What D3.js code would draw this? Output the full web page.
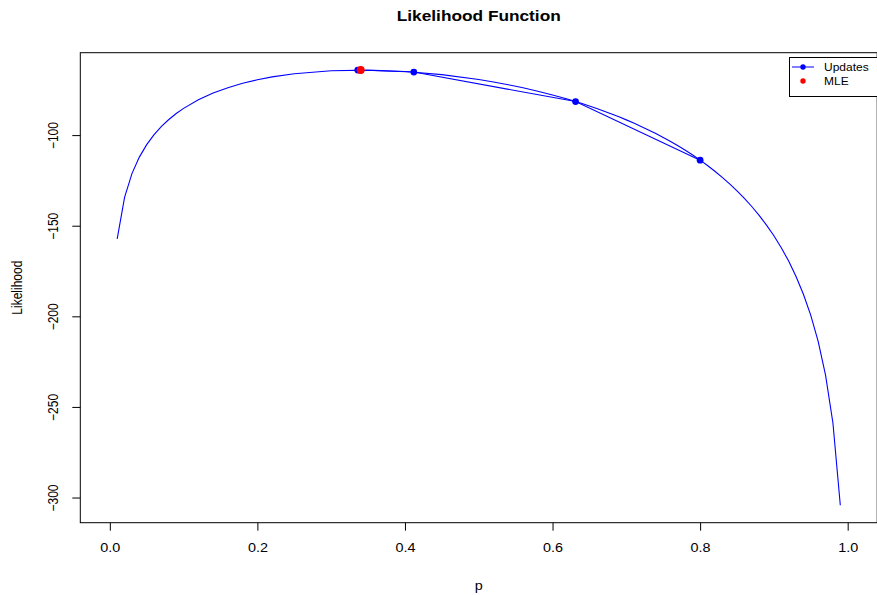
<!DOCTYPE html>
<html><head><meta charset="utf-8">
<script src="https://cdn.jsdelivr.net/npm/d3@7"></script>
<style>body{margin:0;background:#fff}svg{display:block;font-family:"Liberation Sans",Arial,Helvetica,sans-serif}</style>
</head><body><svg id="c" width="877" height="595"></svg>
<script>
// Likelihood curve
const pValues = [0.01,0.02,0.03,0.04,0.05,0.06,0.07,0.08,0.09,0.10,0.12,0.14,0.16,0.18,0.20,0.22,0.25,0.30,0.35,0.40,0.45,0.50,0.52,0.54,0.56,0.58,0.60,0.61,0.62,0.63,0.64,0.65,0.66,0.67,0.68,0.69,0.70,0.71,0.72,0.73,0.74,0.75,0.76,0.77,0.78,0.79,0.80,0.81,0.82,0.83,0.84,0.85,0.86,0.87,0.88,0.89,0.90,0.91,0.92,0.93,0.94,0.95,0.96,0.97,0.98,0.99];
const likelihoodValues = [-157.24,-134.34,-121.23,-112.14,-105.24,-99.74,-95.20,-91.38,-88.09,-85.24,-80.53,-76.80,-73.82,-71.40,-69.45,-67.88,-66.12,-64.48,-64.13,-64.87,-66.61,-69.31,-70.68,-72.20,-73.90,-75.78,-77.84,-78.95,-80.11,-81.33,-82.60,-83.93,-85.33,-86.79,-88.31,-89.91,-91.59,-93.34,-95.19,-97.12,-99.14,-101.28,-103.52,-105.89,-108.38,-111.02,-113.81,-116.77,-119.92,-123.28,-126.88,-130.74,-134.89,-139.39,-144.28,-149.64,-155.55,-162.13,-169.53,-177.98,-187.79,-199.46,-213.83,-232.47,-258.88,-304.28];
// Update path
const updateP = [0.8, 0.6312, 0.4120, 0.3360, 0.3400];
const updateL = [-113.81, -81.48, -65.20, -64.11, -64.10];
// MLE
const mleP = [0.34];
const mleL = [-64.10];
// ticks
const xTicks = [0, 0.2, 0.4, 0.6, 0.8, 1.0];
const xTickLabels = ["0.0","0.2","0.4","0.6","0.8","1.0"];
const yTicks = [-300, -250, -200, -150, -100];
const yTickLabels = ["\u2212300","\u2212250","\u2212200","\u2212150","\u2212100"];
const legendLabels = ["Updates", "MLE"];

const svg = d3.select("#c");
const L = 80.3, R = 877.2, T = 52.7, B = 522.7;
const SX = 1.2; // horizontal stretch of the text in the picture

function rDomain(vals){ const e = d3.extent(vals); const pad = (e[1]-e[0])*0.04; return [e[0]-pad, e[1]+pad]; }
const x = d3.scaleLinear().domain([-0.04, 1.04]).range([L, R]);
const y = d3.scaleLinear().domain(rDomain(likelihoodValues)).range([B, T]);

const blue = "#0000FF", red = "#FF0000";
const curve = pValues.map((p,i)=>[p, likelihoodValues[i]]);
const upd = updateP.map((p,i)=>[p, updateL[i]]);
const line = d3.line().x(d=>x(d[0])).y(d=>y(d[1]));

svg.append("defs").append("clipPath").attr("id","pc").append("rect")
  .attr("x",L).attr("y",T).attr("width",R-L).attr("height",B-T);
const g = svg.append("g").attr("clip-path","url(#pc)");
g.append("path").attr("d", line(curve)).attr("fill","none").attr("stroke",blue).attr("stroke-width",1.1);
g.append("path").attr("d", line(upd)).attr("fill","none").attr("stroke",blue).attr("stroke-width",1.1);
g.selectAll("circle.u").data(upd).enter().append("circle").attr("class","u")
  .attr("cx",d=>x(d[0])).attr("cy",d=>y(d[1])).attr("r",3.4).attr("fill",blue);
g.selectAll("circle.m").data(mleP.map((p,i)=>[p,mleL[i]])).enter().append("circle").attr("class","m")
  .attr("cx",d=>x(d[0])).attr("cy",d=>y(d[1])).attr("r",4).attr("fill",red);

// frame
svg.append("rect").attr("x",L).attr("y",T).attr("width",R-L).attr("height",B-T)
  .attr("fill","none").attr("stroke","#000").attr("stroke-width",1);

// helper for stretched horizontal text
function hText(sel, cx, by, size, txt, bold){
  const t = sel.append("text").attr("transform",`translate(${cx},${by}) scale(${SX},1)`)
    .attr("text-anchor","middle").attr("font-size",size).attr("fill","#000").text(txt);
  if (bold) t.attr("font-weight","bold");
  return t;
}

// x axis
const xAxis = d3.axisBottom(x).tickValues(xTicks).tickFormat((d,i)=>xTickLabels[i]).tickSize(8).tickPadding(9);
const gx = svg.append("g").attr("transform",`translate(0,${B})`).call(xAxis);
gx.select(".domain").remove();
gx.selectAll("line").attr("stroke","#000");
gx.selectAll("text").attr("font-size",12).attr("fill","#000").attr("font-family","Liberation Sans, Arial, sans-serif")
  .attr("y",null).attr("dy",null).attr("transform",`translate(0,${552-B}) scale(${SX},1)`);

// y axis
const yAxis = d3.axisLeft(y).tickValues(yTicks).tickFormat((d,i)=>yTickLabels[i]).tickSize(8).tickPadding(0);
const gy = svg.append("g").attr("transform",`translate(${L},0)`).call(yAxis);
gy.select(".domain").remove();
gy.selectAll("line").attr("stroke","#000");
gy.selectAll("text").attr("font-size",12).attr("fill","#000").attr("font-family","Liberation Sans, Arial, sans-serif")
  .attr("x",null).attr("dy",null).attr("text-anchor","middle")
  .attr("transform",`translate(-22,0) rotate(-90) scale(1,${SX})`);

// titles
hText(svg, (L+R)/2, 21, 14.4, "Likelihood Function", true);
hText(svg, (L+R)/2, 590, 12, "p", false);
svg.append("text").attr("transform",`translate(22,${(T+B)/2}) rotate(-90) scale(1,${SX})`).attr("text-anchor","middle")
  .attr("font-size",12).text("Likelihood");

// legend
const lg = svg.append("g");
lg.append("rect").attr("x",789.5).attr("y",57.5).attr("width",100).attr("height",39)
  .attr("fill","#fff").attr("stroke","#000").attr("stroke-width",1);
const rowsY = [67, 81];
lg.append("line").attr("x1",792).attr("x2",814).attr("y1",rowsY[0]).attr("y2",rowsY[0]).attr("stroke",blue);
lg.append("circle").attr("cx",803).attr("cy",rowsY[0]).attr("r",2.7).attr("fill",blue);
lg.append("circle").attr("cx",803).attr("cy",rowsY[1]).attr("r",2.7).attr("fill",red);
legendLabels.forEach((d,i)=>{
  lg.append("text").attr("transform",`translate(824,${rowsY[i]+3.7}) scale(${SX},1)`)
    .attr("font-size",10).attr("fill","#000").text(d);
});
</script></body></html>
